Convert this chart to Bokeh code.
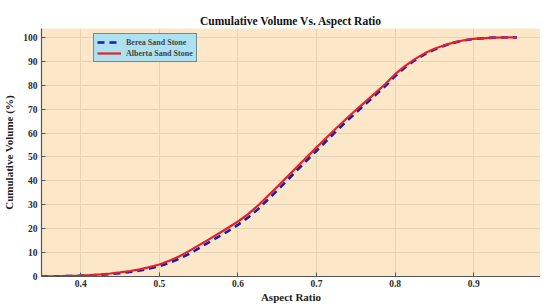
from bokeh.plotting import figure
from bokeh.models import Range1d, FixedTicker, Legend, LegendItem
from bokeh.embed import file_html
from bokeh.resources import INLINE

# Data
aspect_ratio = [0.35, 0.375, 0.40, 0.4125, 0.425, 0.4375, 0.45, 0.4625, 0.475, 0.4875,
                0.50, 0.5125, 0.525, 0.5375, 0.55, 0.5625, 0.575, 0.5875, 0.60, 0.6125,
                0.625, 0.65, 0.675, 0.70, 0.725, 0.75, 0.775, 0.7875, 0.80, 0.8125,
                0.825, 0.8375, 0.85, 0.8625, 0.875, 0.8875, 0.90, 0.925, 0.955]
alberta = [0.05, 0.15, 0.4, 0.6, 0.9, 1.25, 1.7, 2.3, 3.0, 3.9,
           5.0, 6.6, 8.4, 10.6, 13.0, 15.4, 17.9, 20.4, 23.0, 26.0,
           29.5, 37.5, 45.8, 54.0, 62.0, 69.6, 76.8, 80.5, 84.6, 88.0,
           90.9, 93.3, 95.2, 96.7, 97.9, 98.8, 99.4, 99.9, 100.0]
berea = [0.05, 0.12, 0.3, 0.45, 0.7, 1.0, 1.4, 1.9, 2.5, 3.3,
         4.3, 5.7, 7.4, 9.4, 11.8, 14.2, 16.6, 19.0, 21.6, 24.6,
         28.0, 36.0, 44.4, 52.6, 60.8, 68.5, 75.9, 79.6, 83.8, 87.4,
         90.4, 92.9, 94.9, 96.5, 97.8, 98.7, 99.3, 99.9, 100.0]
x_ticks = [0.4, 0.5, 0.6, 0.7, 0.8, 0.9]
y_ticks = [0, 10, 20, 30, 40, 50, 60, 70, 80, 90, 100]

SERIF = "Liberation Serif"

p = figure(width=540, height=305, output_backend="svg", toolbar_location=None,
           x_range=Range1d(0.35, 0.985), y_range=Range1d(0, 103.7),
           min_border_left=32, min_border_right=0, min_border_top=28,
           min_border_bottom=24)

p.title.text = "Cumulative Volume Vs. Aspect Ratio"
p.title.align = "center"
p.title.text_font = SERIF
p.title.text_font_style = "bold"
p.title.text_font_size = "11.5px"
p.title.text_color = "#111111"
p.title.standoff = 3

p.background_fill_color = "#FCE7C9"
p.border_fill_color = "white"
p.outline_line_color = None

p.xgrid.grid_line_color = "#E6D3B5"
p.ygrid.grid_line_color = "#E6D3B5"
p.xgrid.ticker = FixedTicker(ticks=x_ticks)
p.ygrid.ticker = FixedTicker(ticks=y_ticks)

p.xaxis.ticker = FixedTicker(ticks=x_ticks)
p.yaxis.ticker = FixedTicker(ticks=y_ticks)
for ax in (p.xaxis[0], p.yaxis[0]):
    ax.axis_line_color = "#555555"
    ax.axis_line_width = 1.2
    ax.major_tick_line_color = "#555555"
    ax.major_tick_in = 4
    ax.major_tick_out = 0
    ax.minor_tick_line_color = None
    ax.major_label_text_font = SERIF
    ax.major_label_text_font_style = "bold"
    ax.major_label_text_font_size = "9.5px"
    ax.major_label_text_color = "#2a2a2a"
    ax.axis_label_text_font = SERIF
    ax.axis_label_text_font_style = "bold"
    ax.axis_label_text_font_size = "11px"
    ax.axis_label_text_color = "#222222"

p.xaxis.axis_label = "Aspect Ratio"
p.yaxis.axis_label = "Cumulative Volume (%)"
p.xaxis.major_label_standoff = 3
p.xaxis.axis_label_standoff = 1
p.yaxis.major_label_standoff = 4
p.yaxis.axis_label_standoff = 5

r_blue = p.line(aspect_ratio, berea, line_color="#1a1ab8", line_width=2.6,
                line_dash="7 5")
r_red = p.line(aspect_ratio, alberta, line_color="#e0222a", line_width=2.2)

legend = Legend(items=[LegendItem(label="Berea Sand Stone", renderers=[r_blue]),
                       LegendItem(label="Alberta Sand Stone", renderers=[r_red])],
                location=(52, 214))
legend.background_fill_color = "#ADE1F0"
legend.background_fill_alpha = 1
legend.border_line_color = "#333333"
legend.border_line_width = 1
legend.label_text_font = SERIF
legend.label_text_font_style = "bold"
legend.label_text_font_size = "8px"
legend.label_height = 10
legend.glyph_height = 10
legend.glyph_width = 24
legend.spacing = 1
legend.padding = 3
legend.margin = 0
legend.label_standoff = 5
p.add_layout(legend, "center")

open("out.html", "w").write(file_html(p, INLINE))
